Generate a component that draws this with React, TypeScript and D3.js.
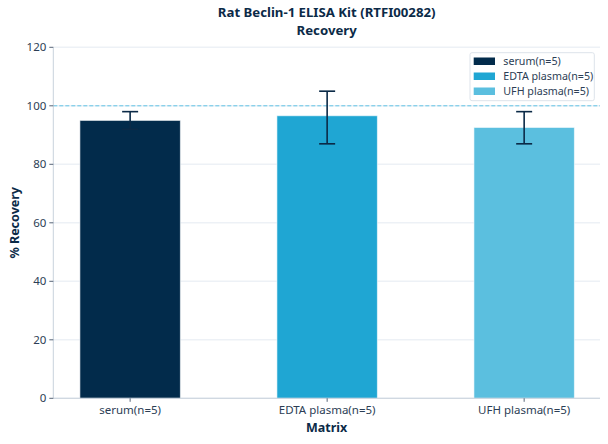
import React from "react";
import * as d3 from "d3";

const categories = ["serum(n=5)", "EDTA plasma(n=5)", "UFH plasma(n=5)"];
const values = [95, 96.6, 92.6];
const errLow = [92, 87, 87];
const errHigh = [98, 105, 98];
const colors = ["#022b4b", "#1fa6d3", "#5bbfdf"];
const yTicks = [0, 20, 40, 60, 80, 100, 120];

const W = 608;
const H = 444;
const left = 53.3;
const right = 600;
const top = 47.3;
const bottom = 398.3;
const FONT = "'Noto Sans', 'Open Sans', sans-serif";
const TEXT = "#2c3e55";
const DARK = "#0b2a47";

export default function App() {
  const x = d3.scaleLinear().domain([-0.39, 2.385]).range([left, right]);
  const y = d3.scaleLinear().domain([0, 120]).range([bottom, top]);
  const bw = x(0.51) - x(0);

  return (
    <svg width={W} height={H} style={{ position: "absolute", left: 0, top: 0 }} fontFamily={FONT}>
      <rect width={W} height={H} fill="#fff" />
      {/* grid */}
      {yTicks.map((t) => (
        <line key={"g" + t} x1={left} x2={right} y1={y(t)} y2={y(t)} stroke="#edf1f6" strokeWidth={1.5} />
      ))}
      {/* bars */}
      {values.map((v, i) => (
        <rect
          key={"b" + i}
          x={x(i) - bw / 2}
          y={y(v)}
          width={bw}
          height={y(0) - y(v)}
          fill={colors[i]}
          stroke="#ffffff"
          strokeOpacity={0.6}
          strokeWidth={1}
        />
      ))}
      {/* reference line */}
      <line x1={left} x2={right} y1={y(100)} y2={y(100)} stroke="#62c3e6" strokeWidth={1} strokeDasharray="4,2" />
      {/* error bars */}
      {values.map((v, i) => (
        <g key={"e" + i} stroke={DARK} strokeWidth={1.6}>
          <line x1={x(i)} x2={x(i)} y1={y(errLow[i])} y2={y(errHigh[i])} />
          <line x1={x(i) - 8} x2={x(i) + 8} y1={y(errLow[i])} y2={y(errLow[i])} />
          <line x1={x(i) - 8} x2={x(i) + 8} y1={y(errHigh[i])} y2={y(errHigh[i])} />
        </g>
      ))}
      {/* axes */}
      <line x1={left} x2={left} y1={top} y2={bottom} stroke="#c9d2dc" strokeWidth={1} />
      <line x1={left} x2={right} y1={bottom} y2={bottom} stroke="#c9d2dc" strokeWidth={1} />
      {yTicks.map((t) => (
        <g key={"yt" + t}>
          <line x1={left - 4} x2={left} y1={y(t)} y2={y(t)} stroke={TEXT} strokeWidth={0.8} />
          <text x={left - 7} y={y(t)} dy="0.35em" textAnchor="end" fontSize={11.5} fill={TEXT}>
            {t}
          </text>
        </g>
      ))}
      {categories.map((c, i) => (
        <g key={"xt" + i}>
          <line x1={x(i)} x2={x(i)} y1={bottom} y2={bottom + 3.5} stroke={TEXT} strokeWidth={0.8} />
          <text x={x(i)} y={bottom + 16} textAnchor="middle" fontSize={11.5} fill={TEXT}>
            {c}
          </text>
        </g>
      ))}
      {/* labels */}
      <text x={(left + right) / 2} y={432} textAnchor="middle" fontSize={12.5} fontWeight="bold" fill={DARK}>
        Matrix
      </text>
      <text
        transform={`translate(19,${(top + bottom) / 2}) rotate(-90)`}
        textAnchor="middle"
        fontSize={12.5}
        fontWeight="bold"
        fill={DARK}
      >
        % Recovery
      </text>
      <text x={(left + right) / 2} y={17} textAnchor="middle" fontSize={13.2} fontWeight="bold" fill={DARK}>
        Rat Beclin-1 ELISA Kit (RTFI00282)
      </text>
      <text x={(left + right) / 2} y={34.5} textAnchor="middle" fontSize={13.2} fontWeight="bold" fill={DARK}>
        Recovery
      </text>
      {/* legend */}
      <rect x={470} y={52.7} width={124.3} height={48} rx={2} fill="#fff" fillOpacity={0.85} stroke="#dde3ea" strokeWidth={1} />
      {categories.map((c, i) => (
        <g key={"l" + i}>
          <rect x={473.7} y={57.5 + i * 15} width={21.3} height={7.5} fill={colors[i]} />
          <text x={503.3} y={61.3 + i * 15} dy="0.35em" fontSize={10.7} fill={TEXT}>
            {c}
          </text>
        </g>
      ))}
    </svg>
  );
}
